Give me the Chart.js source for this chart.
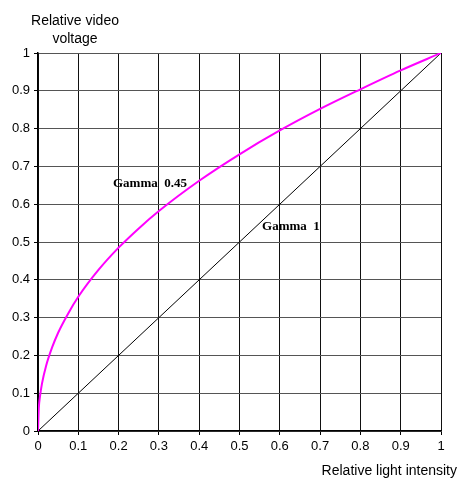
<!DOCTYPE html>
<html><head><meta charset="utf-8">
<script src="https://cdn.jsdelivr.net/npm/chart.js@4/dist/chart.umd.min.js"></script>
<style>html,body{margin:0;padding:0;background:#fff}#wrap{width:457px;height:479px}</style>
</head><body><div id="wrap"><canvas id="c" width="457" height="479"></canvas></div>
<script>
const intensity = [0, 0.002, 0.005, 0.01, 0.02, 0.035, 0.05, 0.075, 0.1, 0.15, 0.2, 0.25, 0.3, 0.4, 0.5, 0.6, 0.7, 0.8, 0.9, 1];
const gamma045 = [0, 0.06, 0.092, 0.126, 0.172, 0.221, 0.26, 0.311, 0.355, 0.426, 0.485, 0.536, 0.582, 0.662, 0.732, 0.795, 0.852, 0.904, 0.954, 1];
const linearX = [0, 1];
const gamma1 = [0, 1];
const xTicks = ["0","0.1","0.2","0.3","0.4","0.5","0.6","0.7","0.8","0.9","1"];
const yTicks = ["0","0.1","0.2","0.3","0.4","0.5","0.6","0.7","0.8","0.9","1"];
const curveLabels = ["Gamma  0.45", "Gamma  1"];
const labelX = [0.186, 0.556];
const labelY = [0.654, 0.54];
const yTitle = ["Relative video", "voltage"];
const xTitle = "Relative light intensity";

const labelPlugin = {
  id: 'labels',
  afterDatasetsDraw(chart) {
    const ctx = chart.ctx, xs = chart.scales.x, ys = chart.scales.y;
    ctx.save();
    ctx.fillStyle = '#000';
    ctx.font = 'bold 13px "Liberation Serif", "Times New Roman", serif';
    ctx.textBaseline = 'middle';
    ctx.textAlign = 'left';
    curveLabels.forEach((t, i) => ctx.fillText(t, xs.getPixelForValue(labelX[i]), ys.getPixelForValue(labelY[i])));
    ctx.font = '14px "Liberation Sans", Arial, sans-serif';
    ctx.textAlign = 'center';
    ctx.fillText(yTitle[0], 75, 21);
    ctx.fillText(yTitle[1], 75, 39);
    ctx.textAlign = 'right';
    ctx.fillText(xTitle, 457, 471);
    ctx.restore();
  }
};

new Chart(document.getElementById('c'), {
  type: 'scatter',
  data: {
    datasets: [
      { data: intensity.map((x, i) => ({x, y: gamma045[i]})), showLine: true, borderColor: '#ff00ff', borderWidth: 2, pointRadius: 0, tension: 0.4, cubicInterpolationMode: 'monotone' },
      { data: linearX.map((x, i) => ({x, y: gamma1[i]})), showLine: true, borderColor: '#000', borderWidth: 1, pointRadius: 0 }
    ]
  },
  options: {
    responsive: false,
    animation: false,
    devicePixelRatio: 1,
    layout: { padding: { top: 53, right: 16, left: 0, bottom: 0 } },
    plugins: { legend: { display: false }, tooltip: { enabled: false } },
    scales: {
      x: {
        type: 'linear', min: 0, max: 1,
        afterFit(s) { s.height = 48; },
        afterBuildTicks(s) { s.ticks = xTicks.map(v => ({ value: parseFloat(v) })); },
        ticks: { color: '#000', font: { family: '"Liberation Sans", Arial, sans-serif', size: 13 }, padding: 4, maxRotation: 0, autoSkip: false,
          callback: (v, i) => xTicks[i] },
        grid: { color: '#111', lineWidth: 1, tickLength: 4, tickColor: '#000' },
        border: { color: '#000', width: 1.5 }
      },
      y: {
        type: 'linear', min: 0, max: 1,
        afterFit(s) { s.width = 38; },
        afterBuildTicks(s) { s.ticks = yTicks.map(v => ({ value: parseFloat(v) })); },
        ticks: { color: '#000', font: { family: '"Liberation Sans", Arial, sans-serif', size: 13 }, padding: 4, autoSkip: false,
          callback: (v, i) => yTicks[i] },
        grid: { color: '#555', lineWidth: 1, tickLength: 4, tickColor: '#000' },
        border: { color: '#000', width: 1.5 }
      }
    }
  },
  plugins: [labelPlugin]
});
</script></body></html>
